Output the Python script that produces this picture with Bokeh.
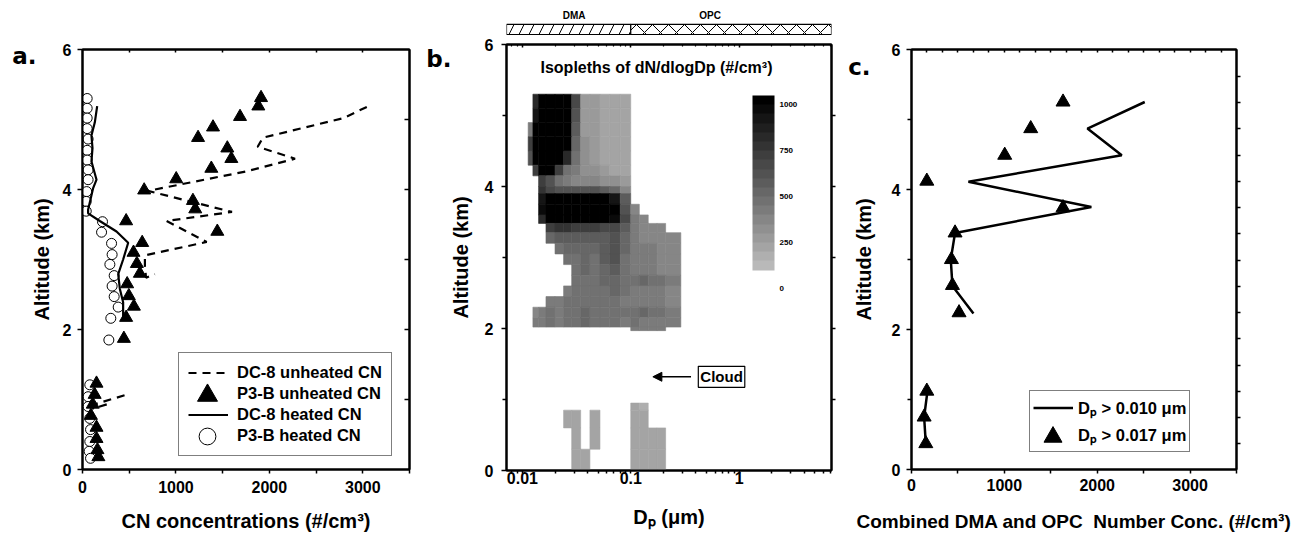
import math
from bokeh.plotting import figure
from bokeh.layouts import row, column
from bokeh.models import (Range1d, LinearAxis, LogAxis, FixedTicker, Legend, LegendItem, Label,
                          Arrow, NormalHead, ColorBar, LinearColorMapper, ColumnDataSource)
from bokeh.core.properties import value
from bokeh.embed import file_html
from bokeh.resources import INLINE

FONT = "Liberation Sans"
LETTER_FONT = "DejaVu Sans"
NaN = float("nan")

# ---------------- panel a data ----------------
dc8_unheated_cn = [3043, 2793, 1930, 1875, 2275, 1757, 700, 1600, 900, 1329, 668, 668, 680, 775,
                   NaN, 450, 150, 110, 260]
dc8_unheated_alt = [5.18, 5.02, 4.74, 4.61, 4.44, 4.26, 3.98, 3.68, 3.55, 3.25, 3.06, 2.90, 2.74, 2.79,
                    NaN, 1.06, 0.94, 0.87, 0.93]
p3b_unheated_cn = [1911, 1882, 1686, 1397, 1237, 1550, 1593, 1379, 1003, 660, 1182, 1207, 467, 1443,
                   639, 546, 582, 614, 478, 496, 550, 467, 443, 150, 130, 110, 90, 150, 150, 160, 170]
p3b_unheated_alt = [5.31, 5.19, 5.04, 4.89, 4.74, 4.59, 4.44, 4.30, 4.15, 3.99, 3.84, 3.72, 3.55, 3.40,
                    3.24, 3.10, 2.94, 2.80, 2.65, 2.48, 2.33, 2.17, 1.87, 1.23, 1.07, 0.93, 0.77, 0.60,
                    0.44, 0.28, 0.18]
dc8_heated_cn = [157, 132, 96, 107, 96, 150, 114, 60, 60, 185, 364, 489, 435, 382, 400, 435, 435]
dc8_heated_alt = [5.19, 4.96, 4.77, 4.59, 4.40, 4.14, 4.02, 3.71, 3.66, 3.55, 3.40, 3.24, 3.00, 2.79,
                  2.58, 2.39, 2.17]
p3b_heated_cn = [50, 50, 50, 50, 60, 50, 50, 60, 60, 45, 40, 40, 214, 204, 311, 317, 293, 339, 317, 339,
                 382, 303, 282, 78, 60, 60, 78, 86, 78, 71, 86]
p3b_heated_alt = [5.30, 5.16, 5.02, 4.87, 4.72, 4.56, 4.42, 4.28, 4.14, 3.97, 3.83, 3.69, 3.54, 3.39,
                  3.23, 3.07, 2.93, 2.77, 2.62, 2.47, 2.32, 2.16, 1.85, 1.21, 1.04, 0.90, 0.73, 0.57,
                  0.40, 0.26, 0.16]

# ---------------- panel b data (dN/dlogDp isopleths) ----------------
dp_edges = [0.0113, 0.0125, 0.0141, 0.0165, 0.0200, 0.0240, 0.0285, 0.0345, 0.0420, 0.0520, 0.0640,
            0.0800, 0.1000, 0.1200, 0.1450, 0.1750, 0.2100, 0.2900]
alt_edges = [5.30, 5.10, 4.90, 4.70, 4.50, 4.30, 4.15, 4.00, 3.90, 3.75, 3.60, 3.48, 3.35, 3.20, 3.05,
             2.90, 2.75, 2.60, 2.45, 2.30, 2.15, 2.02, 1.97]
N = None
dndlogdp = [
    [N, 800, 1050, 1050, 1050, 1050, 650, 280, 270, 210, 210, 210, N, N, N, N, N],
    [N, 900, 1050, 1050, 1050, 1050, 600, 280, 260, 210, 210, 210, N, N, N, N, N],
    [400, 1000, 1050, 1050, 1050, 1050, 550, 290, 260, 210, 210, 210, N, N, N, N, N],
    [700, 1050, 1050, 1050, 1050, 1050, 500, 300, 270, 210, 210, 210, N, N, N, N, N],
    [600, 1050, 1050, 1050, 1050, 800, 450, 320, 280, 220, 220, 220, N, N, N, N, N],
    [N, 700, 1050, 1050, 700, 450, 400, 330, 300, 250, 230, 220, N, N, N, N, N],
    [N, N, 700, 600, 450, 400, 380, 380, 350, 330, 300, 260, N, N, N, N, N],
    [N, N, 750, 650, 600, 620, 600, 620, 600, 580, 520, 380, N, N, N, N, N],
    [N, N, 900, 1050, 1050, 1050, 1050, 1050, 1050, 1050, 900, 550, N, N, N, N, N],
    [N, N, 950, 1050, 1050, 1050, 1050, 1050, 1050, 1050, 1050, 600, 380, N, N, N, N],
    [N, N, 800, 1050, 1050, 1050, 1050, 1050, 1050, 1050, 950, 650, 400, 380, N, N, N],
    [N, N, N, 700, 750, 750, 700, 700, 700, 680, 650, 550, 400, 390, 380, 370, N],
    [N, N, N, 500, 550, 550, 550, 550, 550, 580, 600, 520, 400, 390, 380, 380, 360],
    [N, N, N, N, 480, 500, 520, 520, 500, 550, 600, 500, 420, 400, 400, 390, 380],
    [N, N, N, N, N, 450, 480, 500, 480, 550, 620, 480, 420, 410, 400, 390, 380],
    [N, N, N, N, N, N, 450, 500, 470, 520, 580, 460, 410, 400, 400, 390, 380],
    [N, N, N, N, N, N, 450, 480, 470, 500, 520, 450, 480, 500, 480, 460, 420],
    [N, N, N, N, N, 420, 450, 470, 460, 480, 500, 450, 420, 410, 410, 400, 390],
    [N, N, N, 400, 430, 450, 450, 470, 460, 470, 480, 440, 420, 410, 400, 400, 390],
    [N, 380, 420, 450, 430, 470, 450, 520, 480, 480, 470, 450, 480, 500, 480, 460, 420],
    [N, 400, 430, 470, 440, 480, 450, 500, 470, 470, 460, 440, 450, 440, 430, 420, 400],
    [N, N, N, N, N, N, N, N, N, N, N, N, 440, 430, 420, 420, N],
]
low_alt_edges = [0.95, 0.85, 0.60, 0.30, 0.00]
dndlogdp_low = [
    [N, N, N, N, N, N, N, N, N, N, N, N, 200, 190, N, N, N],
    [N, N, N, N, N, 230, 220, N, 210, N, N, N, 220, 210, N, N, N],
    [N, N, N, N, N, N, 230, N, 210, N, N, N, 230, 220, 210, 200, N],
    [N, N, N, N, N, N, 220, 210, N, N, N, N, 230, 230, 220, 210, N],
]
cbar_ticks = [0, 250, 500, 750, 1000]
dma_range = [0.00713, 0.1]
opc_range = [0.1, 7.13]

# ---------------- panel c data ----------------
dp010_conc = [2512, 1895, 2264, 613, 1937, 469, 423, 441, 667, NaN, 172, 136, 154]
dp010_alt = [5.25, 4.87, 4.49, 4.11, 3.75, 3.38, 3.00, 2.62, 2.23, NaN, 1.12, 0.75, 0.37]
dp017_conc = [1632, 1284, 1004, 165, 1632, 469, 430, 441, 512, 165, 136, 154]
dp017_alt = [5.25, 4.87, 4.49, 4.12, 3.74, 3.38, 3.00, 2.63, 2.24, 1.12, 0.75, 0.37]


def style_axis(ax, tick_out=5, minor_out=4, label_standoff=6, title_standoff=10, title_size="20px"):
    ax.axis_line_width = 2
    ax.axis_line_color = "black"
    ax.major_tick_line_width = 1.5
    ax.minor_tick_line_width = 1.5
    ax.major_tick_line_color = "black"
    ax.minor_tick_line_color = "black"
    ax.major_tick_in = 0
    ax.major_tick_out = tick_out
    ax.minor_tick_in = 0
    ax.minor_tick_out = minor_out
    ax.major_label_text_font = FONT
    ax.major_label_text_font_style = "bold"
    ax.major_label_text_font_size = "16px"
    ax.major_label_text_color = "black"
    ax.major_label_standoff = label_standoff
    ax.axis_label_text_font = FONT
    ax.axis_label_text_font_style = "bold"
    ax.axis_label_text_font_size = title_size
    ax.axis_label_text_color = "black"
    ax.axis_label_standoff = title_standoff


def deco_axis(ax, tick_in=0, tick_out=0, minor_in=None):
    ax.axis_line_width = 2
    ax.axis_line_color = "black"
    ax.major_tick_line_width = 1.5
    ax.major_tick_line_color = "black"
    ax.major_tick_in = tick_in
    ax.major_tick_out = tick_out
    if minor_in is None:
        ax.minor_tick_line_color = None
    else:
        ax.minor_tick_line_color = "black"
        ax.minor_tick_line_width = 1.2
        ax.minor_tick_in = minor_in
        ax.minor_tick_out = 0
    ax.major_label_text_color = None
    ax.major_label_text_font_size = "1px"
    ax.major_label_standoff = 0


def letter_axis(p, alt, text, standoff):
    ax = LinearAxis(ticker=FixedTicker(ticks=[alt], minor_ticks=[]),
                    major_label_overrides={alt: text})
    ax.axis_line_color = None
    ax.major_tick_line_color = None
    ax.minor_tick_line_color = None
    ax.major_tick_in = 0
    ax.major_tick_out = 0
    ax.major_label_standoff = standoff
    ax.major_label_text_font = LETTER_FONT
    ax.major_label_text_font_style = "bold"
    ax.major_label_text_font_size = "23px"
    ax.major_label_text_color = "black"
    p.add_layout(ax, "left")


def base_fig(width, height, left, right, top, bottom, x_range, y_range, x_type="linear"):
    p = figure(width=width, height=height, x_range=x_range, y_range=y_range, x_axis_type=x_type,
               output_backend="svg", toolbar_location=None,
               min_border_left=left, min_border_right=right, min_border_top=top, min_border_bottom=bottom,
               background_fill_color="white", border_fill_color="white")
    p.outline_line_color = "black"
    p.outline_line_width = 2
    p.xgrid.visible = False
    p.ygrid.visible = False
    return p


def make_legend(items, loc, padding, gw, gh, standoff, boxed=True, size="16.5px"):
    lg = Legend(items=items, location=loc, margin=0, padding=padding, spacing=0,
                glyph_width=gw, glyph_height=gh, label_height=gh, label_standoff=standoff,
                label_text_font=FONT, label_text_font_style="bold", label_text_font_size=size,
                label_text_color="black")
    if boxed:
        lg.border_line_color = "black"
        lg.border_line_width = 1.5
        lg.background_fill_color = "white"
        lg.background_fill_alpha = 1
    else:
        lg.border_line_color = None
        lg.background_fill_alpha = 0
        lg.label_text_color = None
    return lg


# ======================= panel a =======================
pa = base_fig(420, 534, 82, 11, 49, 61, Range1d(0, 3500), Range1d(0, 6))
pa.xaxis.ticker = FixedTicker(ticks=[0, 1000, 2000, 3000], minor_ticks=[500, 1500, 2500, 3500])
pa.yaxis.ticker = FixedTicker(ticks=[0, 2, 4, 6], minor_ticks=[])
style_axis(pa.xaxis[0], tick_out=4, minor_out=4, label_standoff=7, title_standoff=14)
style_axis(pa.yaxis[0], tick_out=5, label_standoff=6, title_standoff=7)
pa.xaxis.axis_label = "CN concentrations (#/cm³)"
pa.yaxis.axis_label = "Altitude (km)"
ra = LinearAxis(ticker=FixedTicker(ticks=[1, 2, 3, 4, 5], minor_ticks=[]))
deco_axis(ra, tick_in=5)
pa.add_layout(ra, "right")
ta = LinearAxis(ticker=FixedTicker(ticks=[500, 1000, 1500, 2000, 2500, 3000], minor_ticks=[]))
deco_axis(ta, tick_in=3)
pa.add_layout(ta, "above")
letter_axis(pa, 5.91, "a.", -9)

r_circ = pa.scatter(p3b_heated_cn, p3b_heated_alt, marker="circle", size=10, fill_color="white",
                    line_color="black", line_width=1)
r_solid = pa.line(dc8_heated_cn, dc8_heated_alt, line_color="black", line_width=2.2)
r_dash = pa.line(dc8_unheated_cn, dc8_unheated_alt, line_color="black", line_width=2.2, line_dash="8 6")
r_tri = pa.scatter(p3b_unheated_cn, p3b_unheated_alt, marker="triangle", size=13, fill_color="black",
                   line_color="black")
ghost_a = pa.scatter(x=[], y=[], marker="circle", size=1, fill_alpha=0, line_alpha=0)

leg_a = make_legend([LegendItem(label="DC-8 unheated CN", renderers=[r_dash]),
                     LegendItem(label="P3-B unheated CN", renderers=[ghost_a]),
                     LegendItem(label="DC-8 heated CN", renderers=[r_solid]),
                     LegendItem(label="P3-B heated CN", renderers=[ghost_a])],
                    (96, 13), 9, 40, 21, 9)
pa.add_layout(leg_a, "center")
pa.add_layout(make_legend([LegendItem(label="", renderers=[r_tri])], (100, 49), 0, 50, 50, 0, boxed=False),
              "center")
pa.add_layout(make_legend([LegendItem(label="", renderers=[r_circ])], (104, 12), 0, 42, 42, 0, boxed=False),
              "center")

# ======================= panel b =======================
xlo, xhi = dma_range[0], opc_range[1]
bar = figure(width=420, height=35, x_range=Range1d(xlo, xhi), y_range=Range1d(0, 1), x_axis_type="log",
             x_axis_location=None, y_axis_location=None, output_backend="svg", toolbar_location=None,
             min_border_left=86, min_border_right=9, min_border_top=4, min_border_bottom=0,
             border_fill_color="white")
bar.outline_line_color = None
bar.xgrid.visible = False
bar.ygrid.visible = False
bar.quad(left=[dma_range[0]], right=[dma_range[1]], bottom=[0.03], top=[0.36], fill_color="white",
         line_color="black", line_width=1.2, hatch_pattern="/", hatch_scale=20, hatch_weight=1,
         hatch_color="black")
bar.quad(left=[opc_range[0]], right=[opc_range[1]], bottom=[0.03], top=[0.36], fill_color="white",
         line_color="black", line_width=1.2, hatch_pattern="x", hatch_scale=16, hatch_weight=1,
         hatch_color="black")
bar.text(x=[0.03, 0.54], y=[0.66, 0.66], text=["DMA", "OPC"], text_font=value(FONT),
         text_font_style="bold", text_font_size="10px", text_align="center", text_baseline="middle",
         text_color="black")

pb = base_fig(420, 499, 86, 9, 9, 64, Range1d(xlo, xhi), Range1d(0, 6), x_type="log")
minor_b = [0.008, 0.009] + [k * 0.01 for k in range(2, 10)] + [k * 0.1 for k in range(2, 10)] + \
          [float(k) for k in range(2, 8)]
pb.xaxis.ticker = FixedTicker(ticks=[0.01, 0.1, 1.0], minor_ticks=minor_b)
pb.xaxis.major_label_overrides = {0.01: "0.01", 0.1: "0.1", 1.0: "1"}
pb.yaxis.ticker = FixedTicker(ticks=[0, 2, 4, 6], minor_ticks=[1, 3, 5])
style_axis(pb.xaxis[0], tick_out=3, minor_out=3, label_standoff=-2, title_standoff=19)
style_axis(pb.yaxis[0], tick_out=5, minor_out=4, label_standoff=8, title_standoff=10)
pb.xaxis.axis_label = "Dₚ (μm)"
pb.yaxis.axis_label = "Altitude (km)"
rb = LinearAxis(ticker=FixedTicker(ticks=[1, 2, 3, 4, 5], minor_ticks=[]))
deco_axis(rb, tick_out=4)
pb.add_layout(rb, "right")
tb = LogAxis(ticker=FixedTicker(ticks=[0.01, 0.1, 1.0], minor_ticks=minor_b))
deco_axis(tb, tick_in=3, minor_in=2)
pb.add_layout(tb, "above")
letter_axis(pb, 5.79, "b.", -5)

levels = list(range(0, 1051, 50))
palette = []
for k in range(len(levels) - 1):
    mid = (levels[k] + levels[k + 1]) / 2
    if mid < 100:
        palette.append("#ffffff")
    else:
        g = max(0, round(190 * (1 - (mid - 100) / 925)))
        palette.append("#%02x%02x%02x" % (g, g, g))
mapper = LinearColorMapper(palette=palette, low=0, high=1050, high_color="#000000")

cells = dict(left=[], right=[], bottom=[], top=[], v=[])
for edges, grid in ((alt_edges, dndlogdp), (low_alt_edges, dndlogdp_low)):
    for i, rowvals in enumerate(grid):
        for j, v in enumerate(rowvals):
            if v is None:
                continue
            cells["left"].append(dp_edges[j])
            cells["right"].append(dp_edges[j + 1])
            cells["top"].append(edges[i])
            cells["bottom"].append(edges[i + 1])
            cells["v"].append(v)
src = ColumnDataSource(cells)
pb.quad(left="left", right="right", bottom="bottom", top="top", source=src,
        fill_color={"field": "v", "transform": mapper}, line_color={"field": "v", "transform": mapper},
        line_width=0.6)

cb = ColorBar(color_mapper=mapper, location=(246, 182), width=22, height=193, padding=0,
              ticker=FixedTicker(ticks=cbar_ticks), major_label_text_font=FONT,
              major_label_text_font_style="bold", major_label_text_font_size="8px",
              major_label_text_color="black",
              major_tick_line_color=None, bar_line_color=None, border_line_color=None,
              background_fill_color=None, label_standoff=5)
pb.add_layout(cb, "center")

pb.add_layout(Label(x=34, y=395, x_units="screen", y_units="screen",
                    text="Isopleths of dN/dlogDp (#/cm³)", text_font=FONT, text_font_style="bold",
                    text_font_size="16px", text_color="black"))
pb.add_layout(Arrow(x_start=0.36, y_start=1.32, x_end=0.16, y_end=1.32, line_width=1.5, line_color="black",
                    end=NormalHead(size=9, fill_color="black", line_color="black")))
pb.add_layout(Label(x=0.37, y=1.32, x_offset=6, text="Cloud", text_font=FONT, text_font_style="bold",
                    text_font_size="15px", text_baseline="middle", text_align="left",
                    border_line_color="black", border_line_width=1.2, background_fill_color="white",
                    padding=2, text_color="black"))

# ======================= panel c =======================
pc = base_fig(455, 534, 71, 59, 42, 64, Range1d(0, 3500), Range1d(0, 6))
pc.xaxis.ticker = FixedTicker(ticks=[0, 1000, 2000, 3000], minor_ticks=[500, 1500, 2500, 3500])
pc.yaxis.ticker = FixedTicker(ticks=[0, 2, 4, 6], minor_ticks=[1, 3, 5])
style_axis(pc.xaxis[0], tick_out=4, minor_out=4, label_standoff=5, title_standoff=17, title_size="19px")
style_axis(pc.yaxis[0], tick_out=5, minor_out=4, label_standoff=6, title_standoff=14)
pc.xaxis.axis_label = "Combined DMA and OPC\u00a0 Number Conc. (#/cm³)"
pc.yaxis.axis_label = "Altitude (km)"
rc = LinearAxis(ticker=FixedTicker(ticks=[0.365 + 0.375 * i for i in range(15)], minor_ticks=[]))
deco_axis(rc, tick_out=4)
pc.add_layout(rc, "right")
tc = LinearAxis(ticker=FixedTicker(ticks=[3500 * i / 21 for i in range(1, 21)], minor_ticks=[]))
deco_axis(tc, tick_in=3)
pc.add_layout(tc, "above")
letter_axis(pc, 5.75, "c.", -21)

r_c1 = pc.line(dp010_conc, dp010_alt, line_color="black", line_width=2.5)
r_c2 = pc.scatter(dp017_conc, dp017_alt, marker="triangle", size=14, fill_color="black", line_color="black")
ghost_c = pc.scatter(x=[], y=[], marker="circle", size=1, fill_alpha=0, line_alpha=0)
leg_c = make_legend([LegendItem(label="Dₚ > 0.010 μm", renderers=[r_c1]),
                     LegendItem(label="Dₚ > 0.017 μm", renderers=[ghost_c])],
                    (118, 17), 3, 40, 27, 5)
pc.add_layout(leg_c, "center")
pc.add_layout(make_legend([LegendItem(label="", renderers=[r_c2])], (119, 10), 0, 45, 45, 0, boxed=False),
              "center")

layout = row(pa, column(bar, pb, spacing=0), pc, spacing=0)
open("out.html", "w").write(file_html(layout, INLINE))
